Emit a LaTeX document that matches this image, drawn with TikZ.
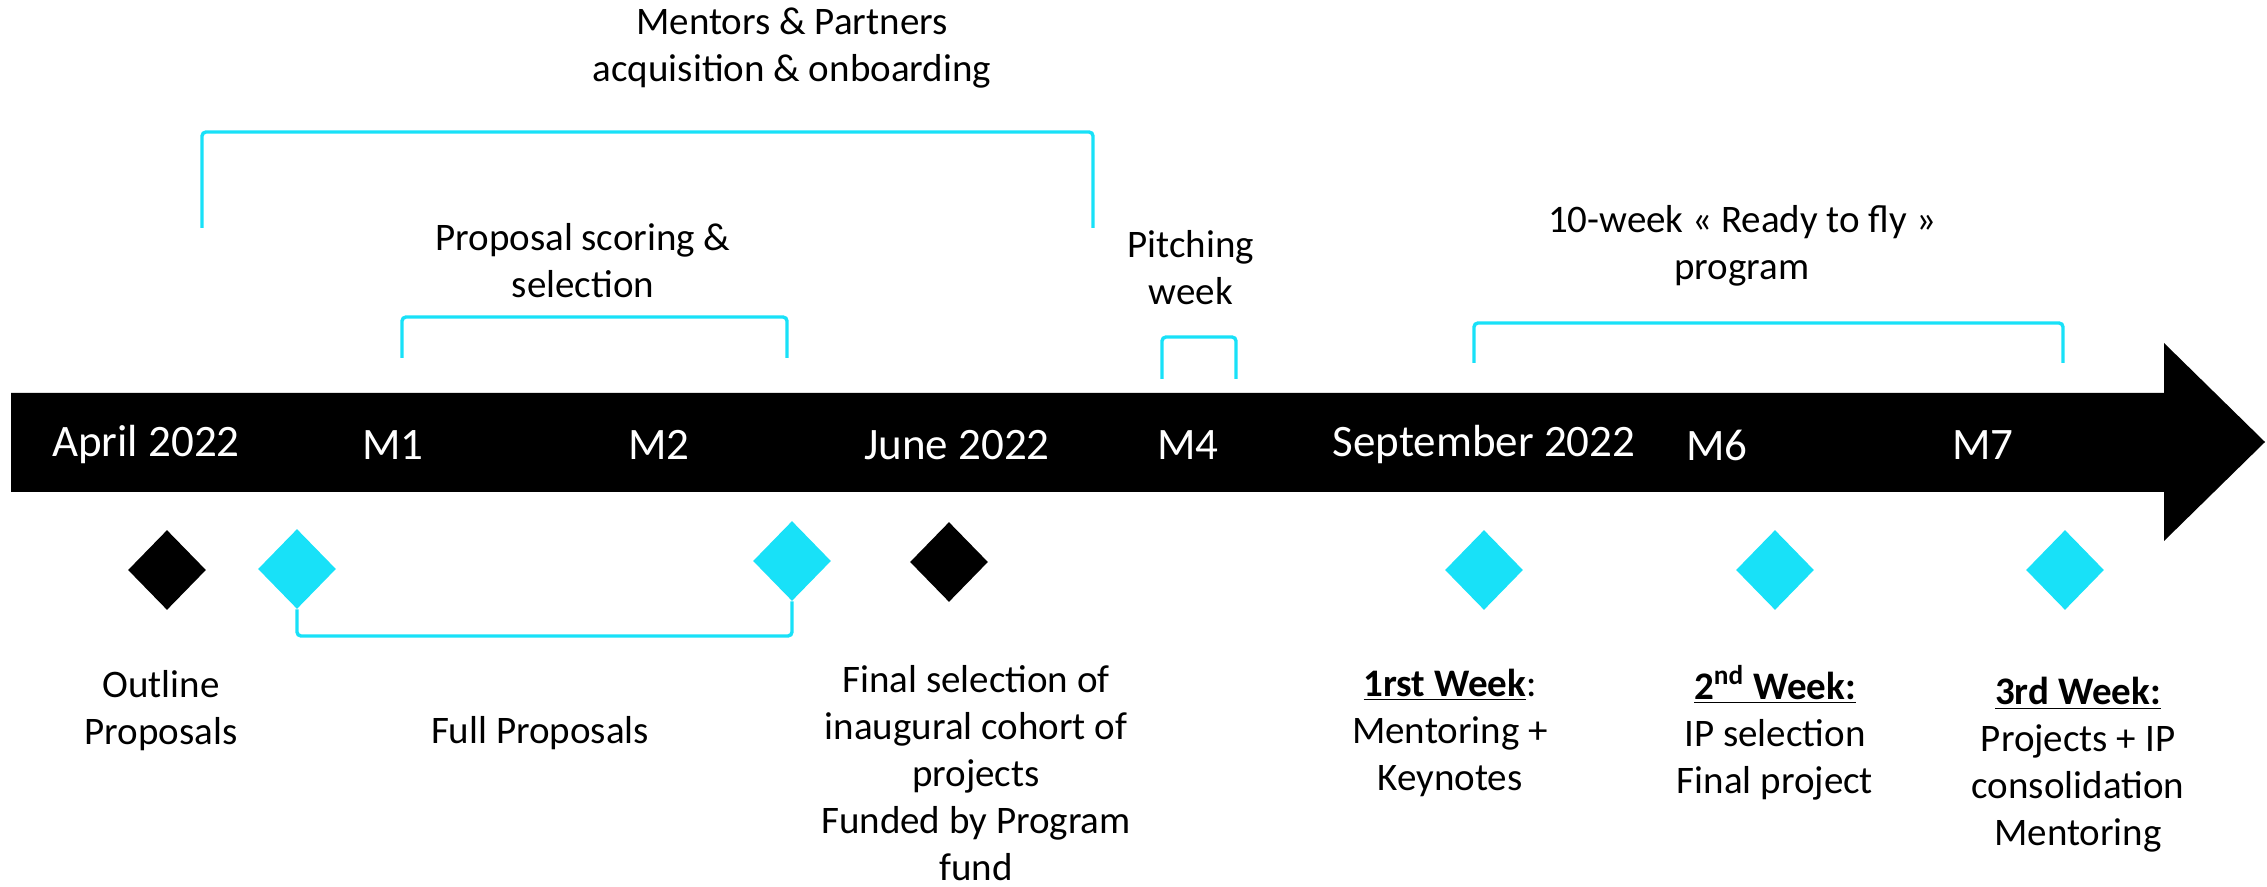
\documentclass[tikz,border=0pt]{standalone}
\usepackage{fontspec}
\setmainfont{Carlito}
\usetikzlibrary{shapes.geometric,positioning}
\definecolor{brkcyan}{RGB}{24,225,248}
\tikzset{
  milestone/.style={diamond, inner sep=0pt, minimum width=39pt, minimum height=40pt},
  bracket/.style={draw=brkcyan, line width=1.7pt, rounded corners=2pt},
  lbl/.style={align=center, font=\fontsize{19.5}{23.5}\selectfont},
  barlbl/.style={text=white, font=\fontsize{22.5}{26}\selectfont},
}

\begin{document}
\begin{tikzpicture}[x=0.5pt, y=-0.5pt]
    \useasboundingbox (0,0) rectangle (2267,887);

    % timeline arrow
    \fill (11,393) -- (2164,393) -- (2164,343) -- (2265,442) -- (2164,541) -- (2164,492) -- (11,492) -- cycle;
    \node[barlbl] (apr) at (146,445) {April 2022};
    \node[barlbl] (m1)  at (393,445) {M1};
    \node[barlbl] (m2)  at (659,445) {M2};
    \node[barlbl] (jun) at (957,445) {June 2022};
    \node[barlbl] (m4)  at (1188,445) {M4};
    \node[barlbl] (sep) at (1484,445) {September 2022};
    \node[barlbl] (m6)  at (1717,445) {M6};
    \node[barlbl] (m7)  at (1983,445) {M7};

    % brackets above
    \coordinate (mpL) at (202,228);
    \coordinate (mpR) at (1093,228);
    \draw[bracket] (mpL) -- ++(0,-96) -| (mpR);
    \node[lbl] (mentors) at (792,48) {Mentors \& Partners\\acquisition \& onboarding};

    \coordinate (psL) at (402,358);
    \coordinate (psR) at (787,358);
    \draw[bracket] (psL) -- ++(0,-41) -| (psR);
    \node[lbl] (scoring) at (583,261) {Proposal scoring \&\\selection};

    \coordinate (pwL) at (1162,379);
    \coordinate (pwR) at (1236,379);
    \draw[bracket] (pwL) -- ++(0,-42) -| (pwR);
    \node[lbl] (pitch) at (1191,268) {Pitching\\week};

    \coordinate (rfL) at (1474,363);
    \coordinate (rfR) at (2063,363);
    \draw[bracket] (rfL) -- ++(0,-40) -| (rfR);
    \node[lbl] (ready) at (1742,246) {10-week « Ready to fly »\\program};

    % milestones
    \node[milestone, fill=black]   (op)  at (167,570) {};
    \node[milestone, fill=brkcyan] (fp1) at (297,569) {};
    \node[milestone, fill=brkcyan] (fp2) at (792,561) {};
    \node[milestone, fill=black]   (fs)  at (949,562) {};
    \node[milestone, fill=brkcyan] (w1)  at (1484,570) {};
    \node[milestone, fill=brkcyan] (w2)  at (1775,570) {};
    \node[milestone, fill=brkcyan] (w3)  at (2065,570) {};
    \draw[bracket] (fp1.south) -- (fp1.south |- 0,636) -| (fp2.south);

    \node[lbl] (outline) at (161,711) {Outline\\Proposals};
    \node[lbl] (full) at (540,733) {Full Proposals};
    \node[lbl] (final) at (976,773) {Final selection of\\inaugural cohort of\\projects\\Funded by Program\\fund};
    \node[lbl] (week1) at (1450,733) {\underline{\textbf{1rst Week}}:\\Mentoring +\\Keynotes};
    \node[lbl] (week2) at (1775,733) {\underline{\textbf{2\textsuperscript{nd} Week:}}\\IP selection\\Final project};
    \node[lbl] (week3) at (2078,765) {\underline{\textbf{3rd Week:}}\\Projects + IP\\consolidation\\Mentoring};

\end{tikzpicture}
\end{document}
